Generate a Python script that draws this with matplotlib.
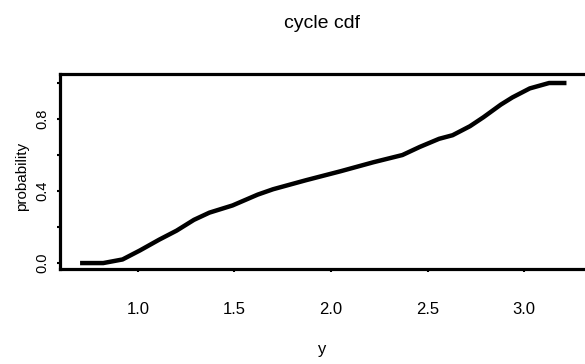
import matplotlib
matplotlib.use("Agg")
import matplotlib.pyplot as plt

# empirical cdf of the cycle values
y_vals = [0.70, 0.82, 0.92, 1.01, 1.11, 1.20, 1.29, 1.37, 1.49, 1.62, 1.70,
          1.87, 2.05, 2.22, 2.37, 2.46, 2.56, 2.63, 2.72, 2.79, 2.88, 2.94,
          3.03, 3.13, 3.22]
prob = [0.0, 0.0, 0.02, 0.07, 0.13, 0.18, 0.24, 0.28, 0.32, 0.38, 0.41,
        0.46, 0.51, 0.56, 0.60, 0.645, 0.69, 0.71, 0.76, 0.81, 0.88, 0.92,
        0.97, 1.00, 1.00]

xticks = [1.0, 1.5, 2.0, 2.5, 3.0]
yticks = [0.0, 0.2, 0.4, 0.6, 0.8, 1.0]
ytick_labels = ["0.0", "", "0.4", "", "0.8", ""]

font = ["Liberation Sans", "DejaVu Sans"]

fig = plt.figure(figsize=(5.85, 3.64), dpi=100)
ax = fig.add_axes([60 / 585, 95 / 364, 1 - 60 / 585, 195 / 364])

ax.plot(y_vals, prob, color="black", lw=3.2, solid_capstyle="butt",
        solid_joinstyle="round")

ax.set_xlim(0.596, 3.316)
ax.set_ylim(-0.033, 1.05)

for side in ["left", "top", "bottom"]:
    ax.spines[side].set_linewidth(2.3)
ax.spines["right"].set_visible(False)

ax.set_xticks(xticks)
ax.set_xticklabels([f"{t:.1f}" for t in xticks], family=font, fontsize=12)
ax.set_yticks(yticks)
ax.set_yticklabels(ytick_labels, family=font, fontsize=10.5,
                   rotation=90, va="center")
ax.tick_params(axis="x", length=2.5, width=1.5, pad=21)
ax.tick_params(axis="y", length=2.5, width=1.5, pad=5)

fig.text(321.5 / 585, 1 - 28 / 364, "cycle cdf", ha="center", va="baseline",
         family=font, fontsize=14)
fig.text(322 / 585, 1 - 354 / 364, "y", ha="center", va="baseline",
         family=font, fontsize=12)
fig.text(22 / 585, 1 - 176 / 364, "probability", ha="center", va="center",
         rotation=90, family=font, fontsize=11)

fig.savefig("out.png", dpi=100)
